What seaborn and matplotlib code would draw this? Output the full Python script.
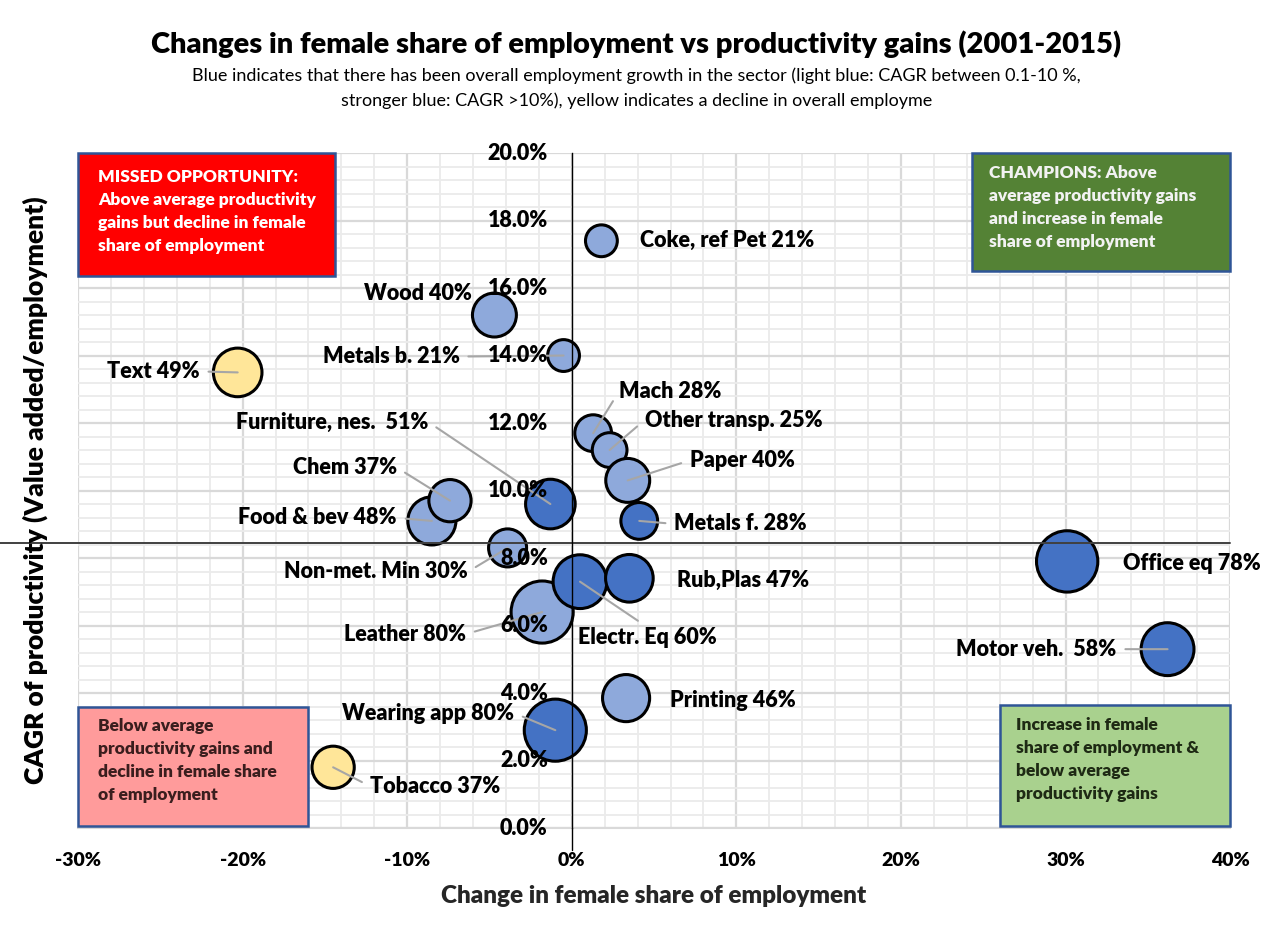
import pandas as pd
import matplotlib.pyplot as plt
import seaborn as sns
from matplotlib.patches import Rectangle
from matplotlib.ticker import MultipleLocator

# =====================
# Data
# =====================
sectors = ['Coke, ref Pet', 'Wood', 'Metals b.', 'Text', 'Mach', 'Other transp.',
           'Paper', 'Furniture, nes. ', 'Food & bev', 'Chem', 'Metals f.',
           'Non-met. Min', 'Office eq', 'Leather', 'Electr. Eq', 'Rub,Plas',
           'Motor veh. ', 'Printing', 'Wearing app', 'Tobacco']
female_share_change = [1.8, -4.7, -0.5, -20.3, 1.3, 2.3, 3.4, -1.3, -8.5, -7.4, 4.1,
                       -3.9, 30.1, -1.8, 0.5, 3.5, 36.2, 3.3, -1.0, -14.5]
productivity_cagr = [17.4, 15.2, 14.0, 13.5, 11.7, 11.2, 10.3, 9.6, 9.1, 9.7, 9.1,
                     8.3, 7.9, 6.4, 7.3, 7.4, 5.3, 3.85, 2.9, 1.8]
female_share = [21, 40, 21, 49, 28, 25, 40, 51, 48, 37, 28, 30, 78, 80, 60, 47, 58, 46, 80, 37]
employment_growth = ['light', 'light', 'light', 'decline', 'light', 'light', 'light', 'strong',
                     'light', 'light', 'strong', 'light', 'strong', 'light', 'strong', 'strong',
                     'strong', 'light', 'strong', 'decline']
avg_productivity = 8.45

x_ticks = [-30, -20, -10, 0, 10, 20, 30, 40]
y_ticks = [0, 2, 4, 6, 8, 10, 12, 14, 16, 18, 20]

df = pd.DataFrame({'sector': sectors, 'x': female_share_change, 'y': productivity_cagr,
                   'share': female_share, 'growth': employment_growth})

# label placement: offset in pixels from bubble centre, alignment, leader line
label_pos = {
    'Coke, ref Pet': (39, 0, 'left', False),
    'Wood': (-23, 22, 'right', False),
    'Metals b.': (-104, -1, 'right', True),
    'Text': (-38, 1, 'right', True),
    'Mach': (26, 42, 'left', True),
    'Other transp.': (35, 30, 'left', True),
    'Paper': (62, 20, 'left', True),
    'Furniture, nes. ': (-122, 82, 'right', True),
    'Chem': (-53, 33, 'right', True),
    'Food & bev': (-35, 3, 'right', True),
    'Metals f.': (35, -3, 'left', True),
    'Non-met. Min': (-40, -24, 'right', True),
    'Office eq': (56, -2, 'left', False),
    'Electr. Eq': (-2, -56, 'left', True),
    'Rub,Plas': (48, -2, 'left', False),
    'Leather': (-76, -22, 'right', True),
    'Motor veh. ': (-51, 0, 'right', True),
    'Printing': (44, -2, 'left', False),
    'Wearing app': (-41, 17, 'right', True),
    'Tobacco': (37, -19, 'left', True),
}

# =====================
# Plot
# =====================
sns.set_style('white')
plt.rcParams['font.family'] = ['Lato', 'DejaVu Sans']
plt.rcParams['text.color'] = 'black'
plt.rcParams['xtick.color'] = 'black'

fig = plt.figure(figsize=(12.73, 9.40), dpi=100)
ax = fig.add_axes([0.0613, 0.1191, 0.905, 0.7181])

palette = {'light': '#8EA9DB', 'strong': '#4472C4', 'decline': '#FFE699'}
sns.scatterplot(data=df, x='x', y='y', hue='growth', palette=palette,
                size='share', sizes=(21 * 25, 80 * 25), size_norm=(21, 80),
                edgecolor='black', linewidth=2.2, alpha=1, legend=False, ax=ax, zorder=2)

ax.set_xlim(-30, 40)
ax.set_ylim(0, 20)
ax.set_xticks(x_ticks)
ax.set_xticklabels([f'{t}%' for t in x_ticks], fontsize=14, fontweight='heavy')
ax.set_yticks(y_ticks)
ax.set_yticklabels([])
ax.xaxis.set_minor_locator(MultipleLocator(2))
ax.yaxis.set_minor_locator(MultipleLocator(0.4))
ax.set_axisbelow(True)
ax.grid(which='major', color='#D9D9D9', linewidth=1.6)
ax.grid(which='minor', color='#EBEBEB', linewidth=1.3)
ax.tick_params(axis='x', which='major', length=5, color='#BFBFBF', pad=12)
ax.tick_params(axis='y', which='major', length=0)
ax.tick_params(which='minor', length=0)

for side in ['top', 'right']:
    ax.spines[side].set_visible(False)
ax.spines['bottom'].set_color('#D9D9D9')
ax.spines['bottom'].set_linewidth(1.5)
ax.spines['left'].set_position(('data', 0))
ax.spines['left'].set_color('black')
ax.spines['left'].set_linewidth(1.0)
ax.spines['left'].set_zorder(3)
# small tick of the vertical axis below the plot
ax.plot([0, 0], [0, -0.65], color='black', linewidth=1.0, clip_on=False, zorder=3)

# y tick labels next to the x=0 axis, above the bubbles
for t in y_ticks:
    ax.annotate(f'{t:.1f}%', xy=(0, t), xytext=(-24, 0), textcoords='offset pixels',
                ha='right', va='center', fontsize=15.5, fontweight='heavy', zorder=6)

# average productivity line
ax.plot([-34.75, 40], [avg_productivity, avg_productivity], color='#404040',
        linewidth=1.4, clip_on=False, zorder=3)

# bubble labels
for _, row in df.iterrows():
    dx, dy, ha, leader = label_pos[row['sector']]
    text = f"{row['sector']} {row['share']}%"
    arrow = None
    if leader:
        arrow = dict(arrowstyle='-', color='#A6A6A6', linewidth=1.5,
                     shrinkA=4, shrinkB=0,
                     relpos=(1, 0.5) if ha == 'right' else (0, 0.5))
        if row['sector'] == 'Electr. Eq':
            arrow['relpos'] = (0.5, 1)
    ax.annotate(text, xy=(row['x'], row['y']), xytext=(dx, dy), textcoords='offset pixels',
                ha=ha, va='center', fontsize=15.5, fontweight='heavy', color='black',
                arrowprops=arrow, zorder=5)

# quadrant boxes
boxes = [
    ((0.0, 0.8175), 0.223, 0.1825, '#FF0000', 'white', (0.0174, 0.977),
     'MISSED OPPORTUNITY:\nAbove average productivity\ngains but decline in female\nshare of employment'),
    ((0.776, 0.825), 0.224, 0.175, '#548235', '#F2F2F2', (0.791, 0.983),
     'CHAMPIONS: Above\naverage productivity gains\nand increase in female\nshare of employment'),
    ((0.0, 0.003), 0.2, 0.176, '#FF9B9B', '#3A1E1E', (0.0174, 0.163),
     'Below average\nproductivity gains and\ndecline in female share\nof employment'),
    ((0.8, 0.003), 0.2, 0.179, '#A9D18E', '#1E2A14', (0.814, 0.165),
     'Increase in female\nshare of employment &\nbelow average\nproductivity gains'),
]
for (x0, y0), w, h, fc, tc, (tx, ty), txt in boxes:
    ax.add_patch(Rectangle((x0, y0), w, h, transform=ax.transAxes, facecolor=fc,
                           edgecolor='#2F5597', linewidth=1.8, zorder=4, clip_on=False))
    ax.text(tx, ty, txt, transform=ax.transAxes, ha='left', va='top', fontsize=12.5,
            fontweight='heavy', color=tc, linespacing=1.55, zorder=5)

ax.set_xlabel('Change in female share of employment', fontsize=17.5, fontweight='heavy', labelpad=12)
ax.set_ylabel('')
fig.text(0.028, 0.479, 'CAGR of productivity (Value added/employment)', rotation=90,
         ha='center', va='center', fontsize=19, fontweight='heavy')

fig.text(0.5, 1 - 44 / 940, 'Changes in female share of employment vs productivity gains (2001-2015)',
         ha='center', va='center', fontsize=21, fontweight='heavy')
fig.text(0.5, 1 - 76 / 940,
         'Blue indicates that there has been overall employment growth in the sector (light blue: CAGR between 0.1-10 %,',
         ha='center', va='center', fontsize=13)
fig.text(0.5, 1 - 101 / 940,
         'stronger blue: CAGR >10%), yellow indicates a decline in overall employme',
         ha='center', va='center', fontsize=13)

fig.savefig('out.png', dpi=100)
